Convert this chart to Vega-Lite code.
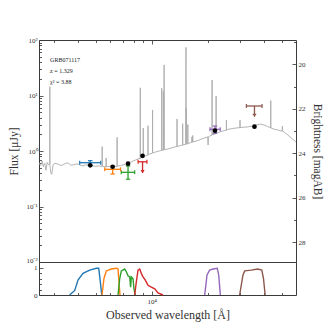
{
 "$schema": "https://vega.github.io/schema/vega-lite/v6.json",
 "padding": {"left": 8, "top": 35, "right": 5, "bottom": 5},
 "background": "white",
 "bounds": "flush",
 "spacing": 0,
 "datasets": {
  "spec": [
   {"w":2477,"f":0.608},{"w":2530,"f":0.55},{"w":2580,"f":0.66},{"w":2610,"f":0.52},{"w":2660,"f":0.6},{"w":2700,"f":0.45},{"w":2740,"f":0.62},{"w":2790,"f":0.56},
   {"w":2828,"f":0.58},{"w":2832,"f":14.4},{"w":2836,"f":0.55},{"w":2870,"f":0.4},{"w":2900,"f":0.38},{"w":2950,"f":0.57},{"w":3020,"f":0.6},{"w":3140,"f":0.58},{"w":3250,"f":0.55},{"w":3330,"f":0.56},{"w":3450,"f":0.6},{"w":3550,"f":0.61},{"w":3660,"f":0.56},{"w":3770,"f":0.56},{"w":3900,"f":0.58},{"w":4020,"f":0.58},{"w":4150,"f":0.55},{"w":4270,"f":0.54},{"w":4400,"f":0.56},{"w":4540,"f":0.56},{"w":4700,"f":0.53},{"w":4840,"f":0.54},{"w":5000,"f":0.53},{"w":5150,"f":0.54},
   {"w":5413,"f":0.53},{"w":5417,"f":1.2},{"w":5421,"f":0.53},{"w":5550,"f":0.52},{"w":5688,"f":0.52},{"w":5690,"f":0.75},{"w":5692,"f":0.52},{"w":5830,"f":0.53},{"w":6000,"f":0.52},{"w":6200,"f":0.51},{"w":6350,"f":0.52},
   {"w":6513,"f":0.53},{"w":6517,"f":1.76},{"w":6521,"f":0.53},{"w":6650,"f":0.54},{"w":6800,"f":0.55},{"w":7010,"f":0.56},{"w":7200,"f":0.58},{"w":7460,"f":0.6},{"w":7700,"f":0.63},{"w":7940,"f":0.66},{"w":8200,"f":0.69},{"w":8440,"f":0.72},
   {"w":8676,"f":0.74},{"w":8680,"f":13.8},{"w":8684,"f":0.74},{"w":8800,"f":0.76},{"w":9007,"f":0.78},{"w":9011,"f":2.6},{"w":9015,"f":0.78},{"w":9200,"f":0.81},{"w":9549,"f":0.85},{"w":9553,"f":2.86},{"w":9557,"f":0.85},{"w":9800,"f":0.89},
   {"w":10104,"f":0.92},{"w":10108,"f":5.5},{"w":10112,"f":0.92},{"w":10400,"f":0.95},{"w":10810,"f":0.99},{"w":11000,"f":1.0},
   {"w":11317,"f":1.03},{"w":11321,"f":13.5},{"w":11325,"f":1.03},{"w":11545,"f":1.04},{"w":11549,"f":12},{"w":11553,"f":1.04},{"w":11657,"f":1.05},{"w":11661,"f":35.6},{"w":11665,"f":1.05},
   {"w":12230,"f":1.09},{"w":13020,"f":1.16},{"w":13681,"f":1.21},{"w":13685,"f":3.77},{"w":13689,"f":1.21},{"w":13850,"f":1.22},{"w":14669,"f":1.28},{"w":14673,"f":3.1},{"w":14677,"f":1.28},
   {"w":15281,"f":1.33},{"w":15285,"f":73.6},{"w":15289,"f":1.33},{"w":15330,"f":1.33},{"w":15334,"f":6},{"w":15338,"f":1.33},{"w":15640,"f":1.36},{"w":15642,"f":3.0},{"w":15646,"f":1.36},
   {"w":16448,"f":1.44},{"w":16452,"f":1.8},{"w":16456,"f":1.44},{"w":16616,"f":1.45},{"w":16620,"f":1.9},{"w":16624,"f":1.45},{"w":17740,"f":1.55},{"w":18870,"f":1.68},
   {"w":20000,"f":1.8},{"w":20100,"f":1.28},{"w":20200,"f":1.81},{"w":21118,"f":1.95},{"w":21122,"f":19},{"w":21126,"f":1.95},{"w":22194,"f":2.05},{"w":22198,"f":9.8},{"w":22202,"f":2.05},
   {"w":22720,"f":2.15},{"w":24170,"f":2.3},{"w":25219,"f":2.38},{"w":25223,"f":3.6},{"w":25227,"f":2.38},{"w":25710,"f":2.45},{"w":27350,"f":2.55},{"w":29100,"f":2.62},
   {"w":29849,"f":2.64},{"w":29853,"f":3.6},{"w":29857,"f":2.64},{"w":30960,"f":2.68},{"w":32930,"f":2.72},{"w":35030,"f":2.82},{"w":36400,"f":2.92},{"w":38300,"f":3.05},{"w":40200,"f":2.95},{"w":42100,"f":2.75},
   {"w":43667,"f":2.62},{"w":43671,"f":8.1},{"w":43675,"f":2.62},{"w":45000,"f":2.5},{"w":47600,"f":2.39},{"w":50431,"f":2.28},{"w":50435,"f":2.8},{"w":50439,"f":2.28},{"w":50700,"f":2.28},{"w":54000,"f":1.94},{"w":56700,"f":1.68},{"w":59700,"f":1.45}
  ],
  "det": [
   {"band":"g","w":4670,"lo":4100,"hi":5320,"f":0.615,"flo":0.56,"fhi":0.67},
   {"band":"r","w":6165,"lo":5590,"hi":6800,"f":0.468,"flo":0.385,"fhi":0.537},
   {"band":"i","w":7460,"lo":6860,"hi":8100,"f":0.413,"flo":0.31,"fhi":0.537},
   {"band":"K","w":21900,"lo":20580,"hi":23360,"f":2.46,"flo":2.08,"fhi":2.82}
  ],
  "lim": [
   {"band":"z","w":8930,"lo":8450,"hi":9430,"f":0.64,"tip":0.4},
   {"band":"IRAC","w":35700,"lo":32300,"hi":39200,"f":6.47,"tip":4.15}
  ],
  "model": [
   {"w":4670,"f":0.552},{"w":6165,"f":0.52},{"w":7460,"f":0.59},{"w":8930,"f":0.82},{"w":21900,"f":2.32},{"w":35700,"f":2.74}
  ],
  "notes": [
   {"w":2842,"f":43.6,"t":"GRB071117"},
   {"w":2842,"f":27.6,"t":"z = 1.329"},
   {"w":2842,"f":17.5,"t":"χ² = 3.88"}
  ],
  "filt": [
   {"band":"g","w":3620,"t":0},{"band":"g","w":3855,"t":0.17},{"band":"g","w":4015,"t":0.55},{"band":"g","w":4271,"t":0.8},{"band":"g","w":4642,"t":0.92},{"band":"g","w":5038,"t":0.99},{"band":"g","w":5189,"t":0.99},{"band":"g","w":5294,"t":0.48},{"band":"g","w":5386,"t":0},
   {"band":"r","w":5404,"t":0},{"band":"r","w":5538,"t":0.61},{"band":"r","w":5700,"t":0.89},{"band":"r","w":6065,"t":0.96},{"band":"r","w":6450,"t":0.99},{"band":"r","w":6590,"t":0.96},{"band":"r","w":6670,"t":0.48},{"band":"r","w":6750,"t":0},
   {"band":"i","w":6590,"t":0},{"band":"i","w":6730,"t":0.61},{"band":"i","w":6866,"t":0.89},{"band":"i","w":7160,"t":0.96},{"band":"i","w":7300,"t":0.86},{"band":"i","w":7460,"t":0.71},{"band":"i","w":7614,"t":0.67},{"band":"i","w":7700,"t":0.29},{"band":"i","w":7770,"t":0.67},{"band":"i","w":7930,"t":0.61},{"band":"i","w":8030,"t":0.23},{"band":"i","w":8160,"t":0},
   {"band":"z","w":8100,"t":0},{"band":"z","w":8265,"t":0.48},{"band":"z","w":8440,"t":0.92},{"band":"z","w":8620,"t":0.96},{"band":"z","w":8790,"t":0.8},{"band":"z","w":8980,"t":0.67},{"band":"z","w":9240,"t":0.55},{"band":"z","w":9550,"t":0.36},{"band":"z","w":9950,"t":0.29},{"band":"z","w":10380,"t":0.23},{"band":"z","w":10810,"t":0.08},{"band":"z","w":11500,"t":0},
   {"band":"K","w":19270,"t":0},{"band":"K","w":19840,"t":0.74},{"band":"K","w":20490,"t":0.92},{"band":"K","w":21360,"t":0.96},{"band":"K","w":22530,"t":0.99},{"band":"K","w":22930,"t":0.74},{"band":"K","w":23390,"t":0},
   {"band":"IRAC","w":29710,"t":0},{"band":"IRAC","w":30970,"t":0.74},{"band":"IRAC","w":31620,"t":0.89},{"band":"IRAC","w":34270,"t":0.92},{"band":"IRAC","w":37190,"t":0.96},{"band":"IRAC","w":39090,"t":0.92},{"band":"IRAC","w":39920,"t":0.61},{"band":"IRAC","w":40740,"t":0}
  ],
  "mag": [{"m":20},{"m":28}]
 },
 "vconcat": [
  {
   "width": 257,
   "height": 222,
   "layer": [
    {
     "layer": [
      {
       "data": {"name": "spec"},
       "mark": {"type": "line", "color": "#ababab", "strokeWidth": 0.9, "clip": true},
       "encoding": {
        "x": {"field": "w", "type": "quantitative",
              "scale": {"type": "log", "domain": [2477, 59700], "nice": false},
              "axis": {"orient": "top", "title": null, "labels": false,
                       "values": [3000,4000,5000,6000,7000,8000,9000,10000,20000,30000,40000,50000],
                       "tickSize": {"condition": {"test": "datum.value == 10000", "value": -4}, "value": -2.5}}},
        "y": {"field": "f", "type": "quantitative",
              "scale": {"type": "log", "domain": [0.01, 100], "nice": false},
              "axis": {"orient": "left", "title": "Flux [μJy]",
                       "values": [0.01,0.02,0.03,0.04,0.05,0.06,0.07,0.08,0.09,0.1,0.2,0.3,0.4,0.5,0.6,0.7,0.8,0.9,1,2,3,4,5,6,7,8,9,10,20,30,40,50,60,70,80,90,100],
                       "labelExpr": "datum.value == 100 ? '10²' : datum.value == 10 ? '10¹' : datum.value == 1 ? '10⁰' : datum.value == 0.1 ? '10⁻¹' : datum.value == 0.01 ? '10⁻²' : ''",
                       "labelBaseline": {"condition": {"test": "datum.value == 0.01", "value": "alphabetic"}, "value": "middle"},
                       "tickSize": {"condition": {"test": "indexof([0.01,0.1,1,10,100], datum.value) >= 0", "value": -4}, "value": -2.5},
                       "labelPadding": 6, "titlePadding": 6, "labelOverlap": false, "labelFlush": false}}
       }
      },
      {
       "data": {"name": "det"},
       "mark": {"type": "rule", "strokeWidth": 1.3},
       "encoding": {
        "x": {"field": "lo", "type": "quantitative"},
        "x2": {"field": "hi"},
        "y": {"field": "f", "type": "quantitative"},
        "color": {"field": "band", "type": "nominal", "legend": null,
                  "scale": {"domain": ["g","r","i","z","K","IRAC"], "range": ["#1f77b4","#ff7f0e","#2ca02c","#d62728","#9467bd","#8c564b"]}}
       }
      },
      {
       "data": {"name": "det"},
       "mark": {"type": "rule", "strokeWidth": 1.3},
       "encoding": {
        "x": {"field": "w", "type": "quantitative"},
        "y": {"field": "flo", "type": "quantitative"},
        "y2": {"field": "fhi"},
        "color": {"field": "band", "type": "nominal", "legend": null}
       }
      },
      {
       "data": {"name": "det"},
       "mark": {"type": "point", "shape": "M0,-1L0,1", "size": 16, "strokeWidth": 1.2, "filled": false, "opacity": 1},
       "encoding": {
        "x": {"field": "lo", "type": "quantitative"},
        "y": {"field": "f", "type": "quantitative"},
        "color": {"field": "band", "type": "nominal", "legend": null}
       }
      },
      {
       "data": {"name": "det"},
       "mark": {"type": "point", "shape": "M0,-1L0,1", "size": 16, "strokeWidth": 1.2, "filled": false, "opacity": 1},
       "encoding": {
        "x": {"field": "hi", "type": "quantitative"},
        "y": {"field": "f", "type": "quantitative"},
        "color": {"field": "band", "type": "nominal", "legend": null}
       }
      },
      {
       "data": {"name": "det"},
       "mark": {"type": "point", "shape": "M-1,0L1,0", "size": 20, "strokeWidth": 1.2, "filled": false, "opacity": 1},
       "encoding": {
        "x": {"field": "w", "type": "quantitative"},
        "y": {"field": "flo", "type": "quantitative"},
        "color": {"field": "band", "type": "nominal", "legend": null}
       }
      },
      {
       "data": {"name": "det"},
       "mark": {"type": "point", "shape": "M-1,0L1,0", "size": 20, "strokeWidth": 1.2, "filled": false, "opacity": 1},
       "encoding": {
        "x": {"field": "w", "type": "quantitative"},
        "y": {"field": "fhi", "type": "quantitative"},
        "color": {"field": "band", "type": "nominal", "legend": null}
       }
      },
      {
       "data": {"name": "lim"},
       "mark": {"type": "rule", "strokeWidth": 1.3},
       "encoding": {
        "x": {"field": "lo", "type": "quantitative"},
        "x2": {"field": "hi"},
        "y": {"field": "f", "type": "quantitative"},
        "color": {"field": "band", "type": "nominal", "legend": null}
       }
      },
      {
       "data": {"name": "lim"},
       "mark": {"type": "rule", "strokeWidth": 1.3},
       "encoding": {
        "x": {"field": "w", "type": "quantitative"},
        "y": {"field": "f", "type": "quantitative"},
        "y2": {"field": "tip"},
        "color": {"field": "band", "type": "nominal", "legend": null}
       }
      },
      {
       "data": {"name": "lim"},
       "mark": {"type": "point", "shape": "M0,-1L0,1", "size": 16, "strokeWidth": 1.2, "filled": false, "opacity": 1},
       "encoding": {
        "x": {"field": "lo", "type": "quantitative"},
        "y": {"field": "f", "type": "quantitative"},
        "color": {"field": "band", "type": "nominal", "legend": null}
       }
      },
      {
       "data": {"name": "lim"},
       "mark": {"type": "point", "shape": "M0,-1L0,1", "size": 16, "strokeWidth": 1.2, "filled": false, "opacity": 1},
       "encoding": {
        "x": {"field": "hi", "type": "quantitative"},
        "y": {"field": "f", "type": "quantitative"},
        "color": {"field": "band", "type": "nominal", "legend": null}
       }
      },
      {
       "data": {"name": "lim"},
       "mark": {"type": "point", "shape": "M-1,-1.4L0,0L1,-1.4Z", "size": 18, "filled": true, "opacity": 1},
       "encoding": {
        "x": {"field": "w", "type": "quantitative"},
        "y": {"field": "tip", "type": "quantitative"},
        "color": {"field": "band", "type": "nominal", "legend": null}
       }
      },
      {
       "data": {"name": "model"},
       "mark": {"type": "point", "filled": true, "color": "black", "size": 22, "opacity": 1},
       "encoding": {
        "x": {"field": "w", "type": "quantitative"},
        "y": {"field": "f", "type": "quantitative"}
       }
      },
      {
       "data": {"name": "notes"},
       "mark": {"type": "text", "align": "left", "baseline": "middle", "fontSize": 6, "font": "Liberation Serif", "color": "#222"},
       "encoding": {
        "x": {"field": "w", "type": "quantitative"},
        "y": {"field": "f", "type": "quantitative"},
        "text": {"field": "t"}
       }
      }
     ]
    },
    {
     "data": {"name": "mag"},
     "mark": {"type": "point", "opacity": 0},
     "encoding": {
      "y": {"field": "m", "type": "quantitative",
            "scale": {"domain": [28.9, 18.9], "nice": false, "zero": false},
            "axis": {"orient": "right", "title": "Brightness [magAB]",
                     "values": [19,20,21,22,23,24,25,26,27,28],
                     "labelExpr": "datum.value % 2 == 0 ? datum.label : ''",
                     "tickSize": {"condition": {"test": "datum.value % 2 == 0", "value": -4}, "value": -2.5},
                     "labelPadding": 6, "titlePadding": 6, "labelOverlap": false, "labelFlush": false}}
     }
    }
   ],
   "resolve": {"scale": {"y": "independent"}}
  },
  {
   "width": 257,
   "height": 33,
   "data": {"name": "filt"},
   "mark": {"type": "line", "strokeWidth": 1.4},
   "encoding": {
    "x": {"field": "w", "type": "quantitative",
          "scale": {"type": "log", "domain": [2477, 59700], "nice": false},
          "axis": {"orient": "bottom", "title": "Observed wavelength [Å]", "titleFontSize": 12,
                   "values": [3000,4000,5000,6000,7000,8000,9000,10000,20000,30000,40000,50000],
                   "labelExpr": "datum.value == 10000 ? '10⁴' : ''",
                   "tickSize": {"condition": {"test": "datum.value == 10000", "value": -4}, "value": -2.5},
                   "labelPadding": 6, "titlePadding": 4, "labelOverlap": false, "labelFlush": false}},
    "y": {"field": "t", "type": "quantitative",
          "scale": {"domain": [0, 1.22], "nice": false},
          "axis": {"orient": "left", "title": null,
                   "values": [0,0.2,0.4,0.6,0.8,1],
                   "labelExpr": "datum.value == 0 ? '0' : datum.value == 1 ? '1' : ''",
                   "tickSize": {"condition": {"test": "datum.value == 0 || datum.value == 1", "value": -4}, "value": -2.5},
                   "labelPadding": 6, "labelOverlap": false, "labelFlush": false}},
    "color": {"field": "band", "type": "nominal", "legend": null,
              "scale": {"domain": ["g","r","i","z","K","IRAC"], "range": ["#1f77b4","#ff7f0e","#2ca02c","#d62728","#9467bd","#8c564b"]}}
   }
  }
 ],
 "config": {
  "font": "Liberation Serif",
  "view": {"stroke": "#3a3a3a", "strokeWidth": 1},
  "axis": {"domain": false, "grid": false, "labelFont": "Liberation Serif", "titleFont": "Liberation Serif",
           "titleFontWeight": "normal", "labelFontSize": 7, "titleFontSize": 11.5,
           "tickColor": "#333", "labelColor": "#333", "titleColor": "#333", "tickWidth": 0.8}
 }
}
